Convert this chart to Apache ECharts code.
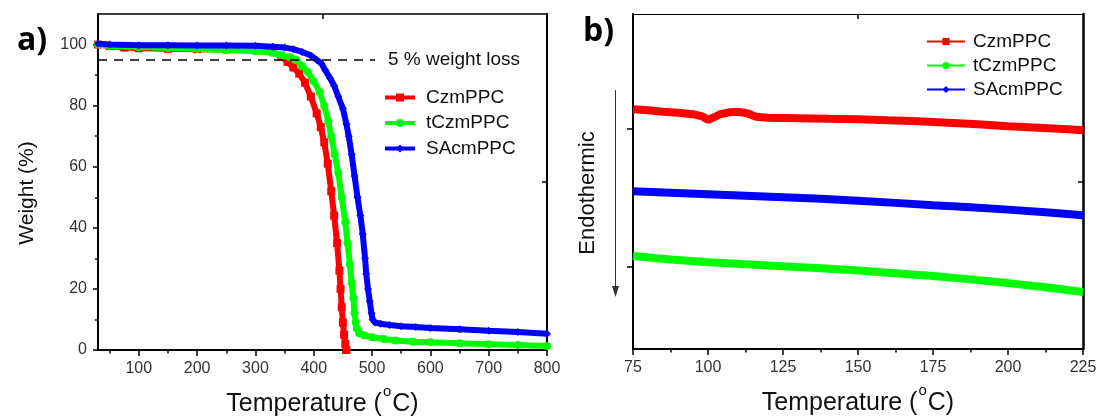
<!DOCTYPE html>
<html>
<head>
<meta charset="utf-8">
<script src="https://cdn.jsdelivr.net/npm/echarts@6/dist/echarts.min.js"></script>
<style>
html,body{margin:0;padding:0;background:#fff;}
#chart{width:1099px;height:419px;}
</style>
</head>
<body>
<div id="chart"></div>
<script>
// ---------- Panel a) TGA data: [temperature (°C), weight (%)] ----------
const czmTGA = [[30,100],[50,99.5],[75,99.0],[100,98.8],[150,98.6],[200,98.5],[250,98.4],[300,98.2],[330,97.5],[345,96],[355,94.3],[365,92.5],[375,90.5],[385,87.5],[395,83],[405,77.5],[412,73],[418,68],[424,61],[430,52],[435,44],[440,35],[444,26],[446,20],[448,14],[450,9],[452,5],[454,2],[456,0]];
const tczmTGA = [[30,100],[50,99.6],[100,99.2],[150,98.9],[200,98.6],[250,98.2],[300,97.8],[330,97.3],[345,96.5],[360,95.8],[370,95],[380,93],[390,91],[400,88],[410,84.5],[418,80],[425,75],[430,70],[436,64],[442,58],[448,50],[454,42],[458,35],[462,28],[465,22],[468,17],[470,12],[472,9],[474,7],[478,5.5],[486,4.8],[500,4.2],[520,3.6],[540,3.1],[570,2.7],[600,2.5],[650,2.2],[700,1.9],[750,1.6],[800,1.3]];
const sacmTGA = [[30,100.3],[50,100],[100,99.8],[150,99.8],[200,99.7],[250,99.7],[300,99.6],[330,99.3],[350,99],[365,98.5],[380,97.6],[395,96.4],[405,95],[413,93.8],[420,91.5],[428,89],[435,86.5],[442,83],[450,79],[456,74],[460,70],[465,64],[470,57],[475,50],[480,44],[484,38],[488,30],[490,25],[493,20],[496,16],[499,12],[501,10],[505,9],[515,8.6],[530,8.2],[550,7.8],[575,7.5],[600,7.2],[650,6.8],[700,6.3],[750,5.9],[800,5.3]];
const weightLossLine = {y: 95, xStart: 30, xEnd: 505, label: '5 % weight loss'};
const tgaXTicks = [100,200,300,400,500,600,700,800];
const tgaXMinor = [50,150,250,350,450,550,650,750];
const tgaYTicks = [0,20,40,60,80,100];
const tgaYMinor = [10,30,50,70,90];

// ---------- Panel b) DSC data: [temperature (°C), heat flow (a.u.)] ----------
const czmDSC = [[75,1.139],[80,1.132],[85,1.121],[90,1.114],[95,1.103],[98,1.088],[100,1.063],[102,1.081],[104,1.103],[107,1.117],[110,1.121],[113,1.110],[116,1.085],[120,1.078],[130,1.074],[140,1.070],[150,1.067],[160,1.059],[170,1.052],[180,1.041],[190,1.030],[200,1.016],[210,1.005],[220,0.994],[225,0.987]];
const tczmDSC = [[75,0.074],[87.5,0.050],[100,0.030],[112.5,0.015],[125,0.001],[137.5,-0.015],[150,-0.031],[162.5,-0.050],[175,-0.071],[187.5,-0.095],[200,-0.122],[212.5,-0.152],[225,-0.187]];
const sacmDSC = [[75,0.545],[87.5,0.534],[100,0.523],[112.5,0.512],[125,0.501],[137.5,0.489],[150,0.476],[162.5,0.460],[175,0.443],[187.5,0.428],[200,0.411],[212.5,0.392],[225,0.371]];
const dscYTicks = [0,1];

const seriesNames = ['CzmPPC','tCzmPPC','SAcmPPC'];
const seriesColors = ['#ff0000','#00ff00','#0000ff'];
const seriesSymbols = ['rect','circle','diamond'];

const FONT = 'Liberation Sans, Arial, sans-serif';
const black = '#000';

function tickAxis(extra){
  return Object.assign({
    type:'value',
    splitLine:{show:false},
    axisLine:{show:false},
    axisLabel:{show:false},
    axisTick:{show:false}
  }, extra);
}

const tempName = 'Temperature ({sup|o}C)';
const tempNameStyle = {fontSize:25, lineHeight:40, color:'#111', fontFamily:FONT,
  rich:{sup:{fontSize:15, lineHeight:15, verticalAlign:'top', fontFamily:FONT, color:'#111', padding:[0,1,0,1]}}};

const xAxes = [
  // panel a bottom (major)
  tickAxis({gridIndex:0, min:30, max:800, position:'bottom',
    axisLine:{show:true, onZero:false, lineStyle:{color:black, width:2}},
    axisTick:{show:true, length:6, customValues:tgaXTicks, lineStyle:{color:black, width:1.5}},
    axisLabel:{show:true, customValues:tgaXTicks, fontSize:16, color:'#333', margin:11, fontFamily:FONT},
    name:tempName, nameLocation:'middle', nameGap:34, nameTextStyle:tempNameStyle
  }),
  // panel a bottom minor
  tickAxis({gridIndex:0, min:30, max:800, position:'bottom',
    axisTick:{show:true, length:3.5, customValues:tgaXMinor, lineStyle:{color:black, width:1.5}}
  }),
  // panel a top mirror
  tickAxis({gridIndex:0, min:30, max:800, position:'top',
    axisLine:{show:true, onZero:false, lineStyle:{color:black, width:1.5}},
    axisTick:{show:true, inside:true, length:5, customValues:[415], lineStyle:{color:black, width:1.5}}
  }),
  // panel b bottom
  tickAxis({gridIndex:1, min:75, max:225, interval:25, position:'bottom',
    axisLine:{show:true, onZero:false, lineStyle:{color:black, width:2}},
    axisTick:{show:true, length:6, lineStyle:{color:black, width:1.5}},
    minorTick:{show:true, splitNumber:2, length:3.5, lineStyle:{color:black, width:1.5}},
    axisLabel:{show:true, fontSize:16, color:'#333', margin:11, fontFamily:FONT, showMinLabel:true, showMaxLabel:true},
    name:tempName, nameLocation:'middle', nameGap:34, nameTextStyle:tempNameStyle
  }),
  // panel b top mirror
  tickAxis({gridIndex:1, min:75, max:225, position:'top',
    axisLine:{show:true, onZero:false, lineStyle:{color:black, width:1.2}},
    axisTick:{show:true, inside:true, length:5, customValues:[150], lineStyle:{color:black, width:1.5}}
  })
];

const yAxes = [
  // panel a left major
  tickAxis({gridIndex:0, min:0, max:110, position:'left',
    axisLine:{show:true, onZero:false, lineStyle:{color:black, width:2}},
    axisTick:{show:true, length:5, customValues:tgaYTicks, lineStyle:{color:black, width:1.5}},
    axisLabel:{show:true, customValues:tgaYTicks, fontSize:16, color:'#333', margin:11, fontFamily:FONT},
    name:'Weight (%)', nameLocation:'middle', nameGap:60,
    nameTextStyle:{fontSize:21, color:'#111', fontFamily:FONT, padding:[0,22,0,0]}
  }),
  // panel a left minor
  tickAxis({gridIndex:0, min:0, max:110, position:'left',
    axisTick:{show:true, length:3, customValues:tgaYMinor, lineStyle:{color:black, width:1.5}}
  }),
  // panel a right mirror
  tickAxis({gridIndex:0, min:0, max:110, position:'right',
    axisLine:{show:true, onZero:false, lineStyle:{color:black, width:2}},
    axisTick:{show:true, inside:true, length:5, customValues:[55], lineStyle:{color:black, width:1.5}}
  }),
  // panel b left
  tickAxis({gridIndex:1, min:-0.6, max:1.83, position:'left',
    axisLine:{show:true, onZero:false, lineStyle:{color:black, width:2}},
    axisTick:{show:true, length:6, customValues:dscYTicks, lineStyle:{color:black, width:1.5}},
    name:'Endothermic', nameLocation:'middle', nameGap:34,
    nameTextStyle:{fontSize:22, color:'#111', fontFamily:FONT, padding:[0,23,0,0]}
  }),
  // panel b right mirror
  tickAxis({gridIndex:1, min:-0.6, max:1.83, position:'right',
    axisLine:{show:true, onZero:false, lineStyle:{color:black, width:2.5}},
    axisTick:{show:true, inside:true, length:5, customValues:[0.615], lineStyle:{color:black, width:1.5}}
  })
];

const tgaData = [czmTGA, tczmTGA, sacmTGA];
const dscData = [czmDSC, tczmDSC, sacmDSC];
const series = [];
tgaData.forEach((d,i)=>{
  const s = {
    type:'line', name:seriesNames[i], xAxisIndex:0, yAxisIndex:0, data:d,
    symbol:seriesSymbols[i], symbolSize:8, showSymbol:true,
    lineStyle:{width:6, color:seriesColors[i]},
    itemStyle:{color:seriesColors[i]},
    z: 2+i, animation:false
  };
  if (i===0){
    s.markLine = {
      silent:true, symbol:'none', animation:false,
      lineStyle:{color:black, type:[9,7], width:1.5},
      label:{show:true, position:'end', formatter:weightLossLine.label, fontSize:19, color:'#111', fontFamily:FONT, distance:13},
      data:[[{coord:[weightLossLine.xStart, weightLossLine.y]},{coord:[weightLossLine.xEnd, weightLossLine.y]}]]
    };
  }
  series.push(s);
});
dscData.forEach((d,i)=>{
  series.push({
    type:'line', name:seriesNames[i], xAxisIndex:3, yAxisIndex:3, data:d,
    symbol:seriesSymbols[i], symbolSize:7, showSymbol:false,
    lineStyle:{width:8, color:seriesColors[i]},
    itemStyle:{color:seriesColors[i]},
    animation:false
  });
});

const option = {
  animation:false,
  backgroundColor:'#fff',
  grid:[
    {left:98, top:14, width:449, height:336, containLabel:false, outerBoundsMode:'none'},
    {left:633, top:14, width:450, height:335, containLabel:false, outerBoundsMode:'none'}
  ],
  xAxis:xAxes,
  yAxis:yAxes,
  legend:[
    {orient:'vertical', left:378, top:83, itemWidth:30, itemHeight:10, itemGap:6.5,
     data:seriesNames, selectedMode:false,
     lineStyle:{width:4}, textStyle:{fontSize:19, color:'#111', fontFamily:FONT, padding:[0,0,0,6]}},
    {orient:'vertical', left:921, top:27, itemWidth:38, itemHeight:9, itemGap:5,
     data:seriesNames, selectedMode:false,
     lineStyle:{width:2}, textStyle:{fontSize:19, color:'#111', fontFamily:FONT, padding:[0,0,0,3]}}
  ],
  graphic:[
    {type:'text', left:17, top:25, style:{text:'a)', font:'bold 32px "Open Sans", sans-serif', fill:'#000'}},
    {type:'text', left:583, top:16, style:{text:'b)', font:'bold 32px "Open Sans", sans-serif', fill:'#000'}},
    {type:'line', shape:{x1:615.5, y1:90, x2:615.5, y2:289}, style:{stroke:'#333', lineWidth:1}},
    {type:'polygon', shape:{points:[[612,286],[619,286],[615.5,297]]}, style:{fill:'#333'}}
  ],
  series:series
};

const chart = echarts.init(document.getElementById('chart'), null, {renderer:'canvas'});
chart.setOption(option);
</script>
</body>
</html>
